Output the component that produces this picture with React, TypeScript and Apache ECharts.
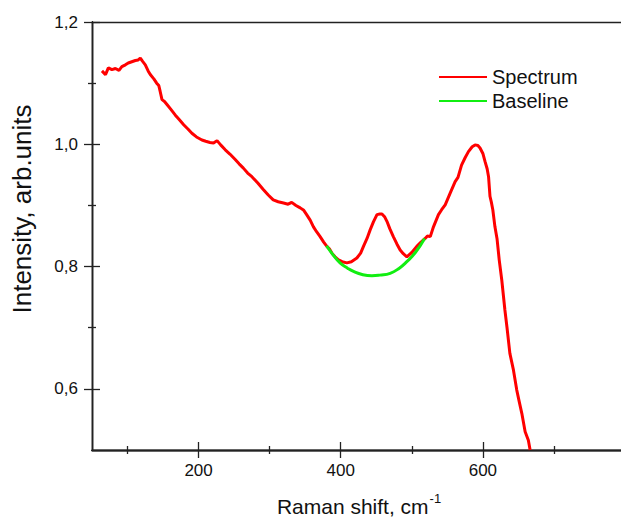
import React, { useEffect, useRef } from "react";
import * as echarts from "echarts";

// Raman spectrum (x: Raman shift cm^-1, y: intensity)
const spectrumShift = [
  64, 69, 73, 78, 83, 88, 92, 97, 101, 106, 111, 115, 118, 121, 125, 129, 132, 137, 141, 144,
  146, 148.5, 152, 155.5, 161, 167, 173, 179, 185, 190.6, 197, 204.7, 210, 216, 221, 226, 231, 237.5, 244, 251.5,
  257, 263, 269, 275, 283, 291, 298, 305, 312, 319.5, 326, 331, 337, 343, 348, 352, 357, 361.6, 366, 371,
  376, 380.5, 384, 387.5, 392, 396.8, 402, 408.6, 415, 422.7, 428, 432, 437, 441.4, 446, 451, 455, 458, 462, 465,
  469, 474, 479, 483.6, 488, 493, 500, 507, 513, 518.8, 522, 526, 530.5, 537.5, 542, 547, 554, 561, 565, 570,
  575, 579.7, 585, 589, 593, 596, 600, 603, 606, 608, 610, 612, 614, 617, 620, 623, 626.6, 631, 634, 638,
  643, 647.7, 651, 654.8, 659.5, 664, 666.5,
];
const spectrumIntensity = [
  1.12, 1.114, 1.125, 1.122, 1.124, 1.121, 1.127, 1.13, 1.133, 1.135, 1.137, 1.138, 1.141, 1.136, 1.13, 1.12, 1.114, 1.107, 1.1, 1.096,
  1.086, 1.073, 1.07, 1.065, 1.057, 1.048, 1.04, 1.032, 1.025, 1.018, 1.012, 1.007, 1.005, 1.003, 1.002, 1.006, 0.999, 0.991, 0.984, 0.975,
  0.968, 0.961, 0.953, 0.947, 0.937, 0.926, 0.917, 0.909, 0.906, 0.904, 0.902, 0.905, 0.9, 0.896, 0.892, 0.885, 0.876, 0.865, 0.857, 0.849,
  0.84, 0.833, 0.829, 0.822, 0.816, 0.811, 0.808, 0.806, 0.808, 0.814, 0.822, 0.833, 0.846, 0.86, 0.873, 0.885, 0.886, 0.886, 0.881, 0.874,
  0.862, 0.849, 0.837, 0.827, 0.821, 0.816, 0.823, 0.833, 0.84, 0.846, 0.85, 0.849, 0.865, 0.885, 0.893, 0.901, 0.92, 0.939, 0.946, 0.966,
  0.978, 0.988, 0.996, 0.999, 0.998, 0.994, 0.985, 0.972, 0.96, 0.947, 0.915, 0.905, 0.893, 0.865, 0.845, 0.811, 0.778, 0.729, 0.7, 0.658,
  0.631, 0.598, 0.58, 0.56, 0.53, 0.516, 0.5,
];

const baselineShift = [380, 390, 399, 410, 418, 430, 444, 455, 469.5, 482, 493, 505, 518];
const baselineIntensity = [0.834, 0.818, 0.806, 0.797, 0.792, 0.787, 0.785, 0.786, 0.789, 0.797, 0.808, 0.823, 0.846];

const xMajorTicks = [200, 400, 600];
const xMinorTicks = [100, 300, 500, 700];
const yMajorTicks = [0.6, 0.8, 1.0, 1.2];
const yMinorTicks = [0.7, 0.9, 1.1];

const X_MIN = 50;
const X_MAX = 800;
const Y_MIN = 0.5;
const Y_MAX = 1.2;

const FONT = "Arial, 'Liberation Sans', sans-serif";
const AXIS_COLOR = "#222";

export default function App() {
  const ref = useRef<HTMLDivElement>(null);

  useEffect(() => {
    if (!ref.current) return;
    const chart = echarts.init(ref.current, null, { renderer: "svg" });

    const gridBox = {
      left: 92,
      right: -4,
      top: 22,
      bottom: 67,
      containLabel: false,
      outerBoundsMode: "none",
    };
    const grids = [0, 1, 2, 3].map(() => ({ ...gridBox }));

    const axisLine = { show: true, onZero: false, lineStyle: { color: AXIS_COLOR, width: 1.3 } };

    const makeX = (gi: number, ticks: number[], inside: boolean, len: number, labels: boolean, position = "bottom") => ({
      type: "value",
      gridIndex: gi,
      position,
      min: X_MIN,
      max: X_MAX,
      axisLine,
      splitLine: { show: false },
      axisTick: ticks.length
        ? { show: true, customValues: ticks, inside, length: len, lineStyle: { color: AXIS_COLOR, width: 1.3 } }
        : { show: false },
      axisLabel: labels
        ? { show: true, customValues: ticks, fontSize: 17, fontFamily: FONT, color: "#111", margin: 12 }
        : { show: false },
    });
    const makeY = (gi: number, ticks: number[], inside: boolean, len: number, labels: boolean) => ({
      type: "value",
      gridIndex: gi,
      position: "left",
      min: Y_MIN,
      max: Y_MAX,
      axisLine,
      splitLine: { show: false },
      axisTick: { show: true, customValues: ticks, inside, length: len, lineStyle: { color: AXIS_COLOR, width: 1.3 } },
      axisLabel: labels
        ? {
            show: true,
            customValues: ticks,
            fontSize: 17,
            fontFamily: FONT,
            color: "#111",
            margin: 14,
            formatter: (v: number) => v.toFixed(1).replace(".", ","),
          }
        : { show: false },
    });

    const option = {
      animation: false,
      backgroundColor: "#fff",
      grid: grids,
      xAxis: [
        makeX(0, xMajorTicks, false, 8, true),
        makeX(1, xMajorTicks, true, 8, false),
        makeX(2, xMinorTicks, false, 4, false),
        makeX(3, xMinorTicks, true, 4, false),
        makeX(0, [], false, 0, false, "top"),
      ],
      yAxis: [
        makeY(0, yMajorTicks, false, 8, true),
        makeY(1, yMajorTicks, true, 8, false),
        makeY(2, yMinorTicks, false, 4, false),
        makeY(3, yMinorTicks, true, 4, false),
      ],
      legend: {
        orient: "vertical",
        left: 433,
        top: 62,
        itemWidth: 48,
        itemHeight: 20,
        itemGap: 4,
        itemStyle: { opacity: 0 },
        textStyle: { fontSize: 20, fontFamily: FONT, color: "#111" },
        data: ["Spectrum", "Baseline"],
      },
      graphic: [
        {
          type: "text",
          x: 22,
          y: 209,
          rotation: Math.PI / 2,
          style: {
            text: "Intensity, arb.units",
            font: `26px ${FONT}`,
            fill: "#111",
            align: "center",
            verticalAlign: "middle",
          },
        },
        {
          type: "text",
          x: 359,
          y: 492,
          style: {
            text: "{a|Raman shift, cm}{s|-1}",
            align: "center",
            verticalAlign: "top",
            rich: {
              a: { fontSize: 21, fontFamily: FONT, fill: "#111", lineHeight: 25, verticalAlign: "bottom" },
              s: { fontSize: 13, fontFamily: FONT, fill: "#111", lineHeight: 25, verticalAlign: "top", padding: [0, 0, 0, 1] },
            },
          },
        },
      ],
      series: [
        {
          name: "Spectrum",
          type: "line",
          xAxisIndex: 0,
          yAxisIndex: 0,
          symbol: "none",
          color: "#ff0000",
          lineStyle: { color: "#ff0000", width: 3 },
          data: spectrumShift.map((x, i) => [x, spectrumIntensity[i]]),
          z: 2,
        },
        {
          name: "Baseline",
          type: "line",
          xAxisIndex: 0,
          yAxisIndex: 0,
          symbol: "none",
          smooth: true,
          color: "#11ee11",
          lineStyle: { color: "#11ee11", width: 3 },
          data: baselineShift.map((x, i) => [x, baselineIntensity[i]]),
          z: 3,
        },
      ],
    };

    chart.setOption(option as any);
    return () => chart.dispose();
  }, []);

  return (
    <div
      ref={ref}
      style={{ position: "absolute", left: 0, top: 0, width: 621, height: 517, background: "#fff" }}
    />
  );
}
